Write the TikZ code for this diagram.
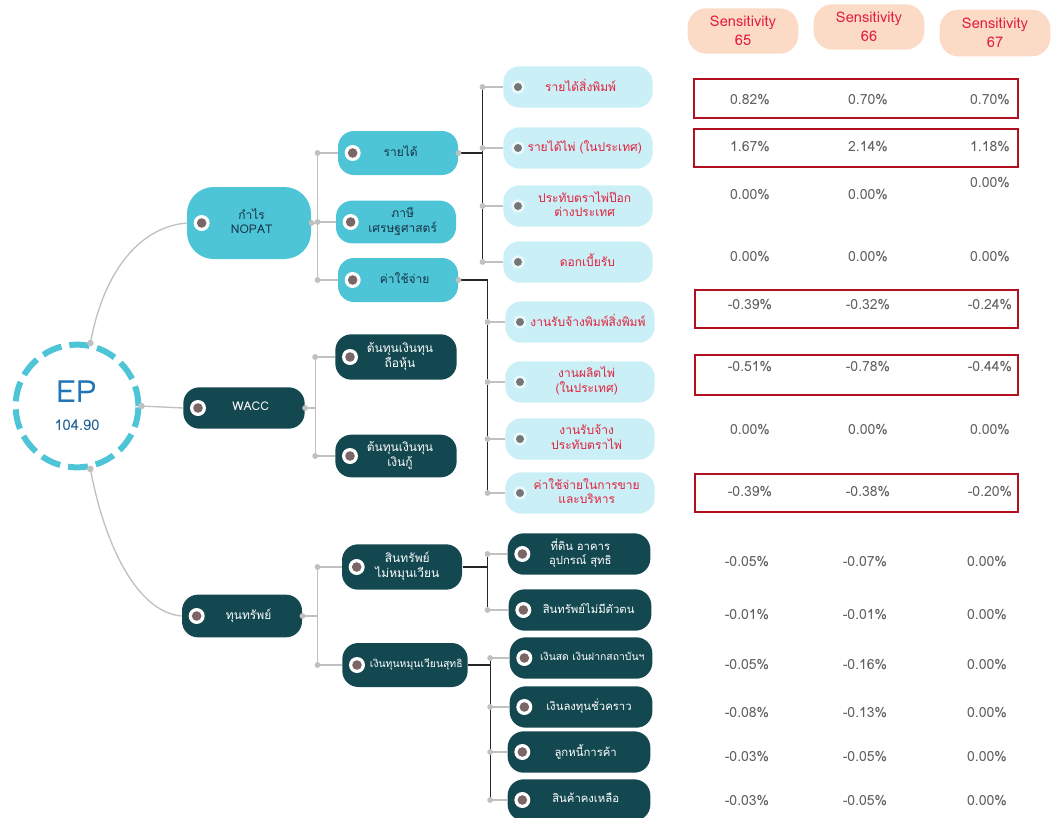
\documentclass[tikz,border=0pt]{standalone}
\usepackage{fontspec}
\setmainfont[Script=Thai]{Loma}

\definecolor{cyanmid}{RGB}{78,197,214}
\definecolor{cyanlight}{RGB}{202,239,246}
\definecolor{darkteal}{RGB}{19,72,80}
\definecolor{navytext}{RGB}{22,52,72}
\definecolor{redtext}{RGB}{226,32,58}
\definecolor{peach}{RGB}{251,219,198}
\definecolor{boxred}{RGB}{178,16,30}
\definecolor{valuegray}{RGB}{95,95,95}
\definecolor{linkgray}{RGB}{192,192,192}
\definecolor{dotbrown}{RGB}{122,102,102}
\definecolor{dotgray}{RGB}{118,118,118}
\definecolor{epblue}{RGB}{34,118,184}

% bullet drawn inside the boxes
\newcommand{\ringdot}{\fill[white] ([xshift=11pt]path picture bounding box.west) circle (6pt);
  \fill[dotbrown] ([xshift=11pt]path picture bounding box.west) circle (3.6pt);}
\newcommand{\paledot}{\fill[white!60!cyanlight] ([xshift=11pt]path picture bounding box.west) circle (5pt);
  \fill[dotgray] ([xshift=11pt]path picture bounding box.west) circle (3pt);}
% box text, pushed right of the bullet by half of the optional space
\newcommand{\tx}[2][10pt]{\hspace*{#1}\begin{tabular}{@{}c@{}}#2\end{tabular}}

\tikzset{every picture/.style={line width=0.75pt}}
\tikzset{
  softlink/.style={draw=linkgray, line width=1pt},
  hardlink/.style={draw=black!85, line width=1pt},
  junction/.style={fill=linkgray},
  box/.style={rounded corners=12pt, inner sep=1pt, font=\fontsize{9}{10.5}\selectfont},
  cyanbox/.style={box, fill=cyanmid, text=navytext, path picture={\ringdot}},
  darkbox/.style={box, fill=darkteal, text=white, path picture={\ringdot}},
  lightbox/.style={box, fill=cyanlight, text=redtext, minimum width=112pt, minimum height=31pt, path picture={\paledot}},
  leafbox/.style={darkbox, minimum width=107pt, minimum height=31pt, font=\fontsize{8.5}{10}\selectfont},
  headbox/.style={rounded corners=14pt, fill=peach, text=redtext, align=center, minimum width=83pt, minimum height=34pt, inner sep=1pt, font=\fontsize{11}{14.5}\selectfont},
  value/.style={text=valuegray, font=\fontsize{10.5}{12}\selectfont},
  hotbox/.style={draw=boxred, line width=2.2pt},
}

\begin{document}
\begin{tikzpicture}[x=0.75pt,y=0.75pt,yscale=-1,xscale=1]
	\useasboundingbox (0,0) rectangle (1051,818);

	%Shape: Circle [EP]
	\node[circle, draw=cyanmid, line width=4.5pt, dash pattern=on 15pt off 6pt, minimum size=92pt, align=center, inner sep=0pt] (ep) at (77,406) {{\fontsize{23}{25}\selectfont\color{epblue}EP}\\[9pt]{\fontsize{11}{13}\selectfont\color{epblue!80!black}104.90}};

	% first level
	\node[cyanbox, minimum width=93pt, minimum height=54pt, rounded corners=20pt] (nopat) at (249,223) {\tx[4pt]{กำไร\\NOPAT}};
	\node[darkbox, minimum width=91pt, minimum height=31pt] (wacc) at (244,408) {\tx{WACC}};
	\node[darkbox, minimum width=90pt, minimum height=32pt] (assets) at (242,616) {\tx{ทุนทรัพย์}};

	% second level
	\node[cyanbox, minimum width=90pt, minimum height=33pt] (rev) at (398,153) {\tx[4pt]{รายได้}};
	\node[cyanbox, minimum width=90pt, minimum height=32pt] (tax) at (396,222) {\tx{ภาษี\\เศรษฐศาสตร์}};
	\node[cyanbox, minimum width=90pt, minimum height=33pt] (cost) at (398,280) {\tx{ค่าใช้จ่าย}};
	\node[darkbox, minimum width=91pt, minimum height=34pt] (eqcost) at (396,357) {\tx[6pt]{ต้นทุนเงินทุน\\ถือหุ้น}};
	\node[darkbox, minimum width=91pt, minimum height=32pt] (debtcost) at (396,456) {\tx[6pt]{ต้นทุนเงินทุน\\เงินกู้}};
	\node[darkbox, minimum width=90pt, minimum height=34pt] (noncur) at (402,567) {\tx[8pt]{สินทรัพย์\\ไม่หมุนเวียน}};
	\node[darkbox, minimum width=94pt, minimum height=33pt, font=\fontsize{7.8}{9}\selectfont] (wc) at (405,665) {\tx[17pt]{เงินทุนหมุนเวียนสุทธิ}};

	% third level
	\node[lightbox] (rprint) at (578,87) {\tx[4pt]{รายได้สิ่งพิมพ์}};
	\node[lightbox] (rcard) at (578,148) {\tx{รายได้ไพ่ (ในประเทศ)}};
	\node[lightbox] (rstamp) at (578,206) {\tx{ประทับตราไพ่ป๊อก\\ต่างประเทศ}};
	\node[lightbox] (rint) at (578,262) {\tx[14pt]{ดอกเบี้ยรับ}};
	\node[lightbox] (jprint) at (580,322) {\tx[12pt]{งานรับจ้างพิมพ์สิ่งพิมพ์}};
	\node[lightbox] (jcard) at (580,382) {\tx{งานผลิตไพ่\\(ในประเทศ)}};
	\node[lightbox] (jstamp) at (580,439) {\tx{งานรับจ้าง\\ประทับตราไพ่}};
	\node[lightbox] (csell) at (580,493) {\tx{ค่าใช้จ่ายในการขาย\\และบริหาร}};
	\node[leafbox] (land) at (579,554) {\tx[2pt]{ที่ดิน อาคาร\\อุปกรณ์ สุทธิ}};
	\node[leafbox] (intang) at (580,610) {\tx[13pt]{สินทรัพย์ไม่มีตัวตน}};
	\node[leafbox, font=\fontsize{7.8}{9}\selectfont] (cash) at (581,658) {\tx[17pt]{เงินสด เงินฝากสถาบันฯ}};
	\node[leafbox] (tempinv) at (581,707) {\tx[12pt]{เงินลงทุนชั่วคราว}};
	\node[leafbox] (ar) at (579,752) {\tx{ลูกหนี้การค้า}};
	\node[leafbox] (inv) at (579,800) {\tx{สินค้าคงเหลือ}};

	%Straight Lines [EP to first level]
	\draw[softlink] (ep.78) .. controls +(14,-75) and +(-45,4) .. (nopat.west);
	\draw[softlink] (ep.east) -- (wacc.west);
	\draw[softlink] (ep.-78) .. controls +(14,75) and +(-45,-4) .. (assets.west);
	\fill[junction] (ep.78) circle (2.5pt);
	\fill[junction] (ep.east) circle (2.5pt);
	\fill[junction] (ep.-78) circle (2.5pt);

	%Straight Lines [first to second level]
	\draw[softlink] (nopat.east) -- ++(6,0) coordinate (b1) |- (rev.west);
	\draw[softlink] (b1) |- (tax.west);
	\draw[softlink] (b1) |- (cost.west);
	\draw[softlink] (wacc.east) -- ++(10,0) coordinate (b2) |- (eqcost.west);
	\draw[softlink] (b2) |- (debtcost.west);
	\draw[softlink] (assets.east) -- ++(15,0) coordinate (b3) |- (noncur.west);
	\draw[softlink] (b3) |- (wc.west);
	\fill[junction] (nopat.east) circle (2.2pt);
	\fill[junction] (wacc.east) circle (2.2pt);
	\fill[junction] (assets.east) circle (2.2pt);
	\fill[junction] (b1 |- rev.west) circle (2.2pt);
	\fill[junction] (b1 |- tax.west) circle (2.2pt);
	\fill[junction] (b1 |- cost.west) circle (2.2pt);
	\fill[junction] (b2 |- eqcost.west) circle (2.2pt);
	\fill[junction] (b2 |- debtcost.west) circle (2.2pt);
	\fill[junction] (b3 |- noncur.west) circle (2.2pt);
	\fill[junction] (b3 |- wc.west) circle (2.2pt);

	%Straight Lines [second to third level]
	\draw[hardlink] (rev.east) -- ++(24,0) coordinate (b4);
	\draw[hardlink] (b4 |- rprint.west) -- (b4 |- rint.west);
	\draw[softlink] (b4 |- rprint.west) -- (rprint.west);
	\draw[softlink] (b4 |- rcard.west) -- (rcard.west);
	\draw[softlink] (b4 |- rstamp.west) -- (rstamp.west);
	\draw[softlink] (b4 |- rint.west) -- (rint.west);
	\draw[hardlink] (cost.east) -- ++(29,0) coordinate (b5) -- (b5 |- csell.west);
	\draw[softlink] (b5 |- jprint.west) -- (jprint.west);
	\draw[softlink] (b5 |- jcard.west) -- (jcard.west);
	\draw[softlink] (b5 |- jstamp.west) -- (jstamp.west);
	\draw[softlink] (b5 |- csell.west) -- (csell.west);
	\draw[hardlink] (noncur.east) -- ++(25,0) coordinate (b6);
	\draw[hardlink] (b6 |- land.west) -- (b6 |- intang.west);
	\draw[softlink] (b6 |- land.west) -- (land.west);
	\draw[softlink] (b6 |- intang.west) -- (intang.west);
	\draw[hardlink] (wc.east) -- ++(22,0) coordinate (b7);
	\draw[hardlink] (b7 |- cash.west) -- (b7 |- inv.west);
	\draw[softlink] (b7 |- cash.west) -- (cash.west);
	\draw[softlink] (b7 |- tempinv.west) -- (tempinv.west);
	\draw[softlink] (b7 |- ar.west) -- (ar.west);
	\draw[softlink] (b7 |- inv.west) -- (inv.west);
	\fill[junction] (rev.east) circle (2.2pt);
	\fill[junction] (cost.east) circle (2.2pt);
	\fill[junction] (b4 |- rprint.west) circle (2.2pt);
	\fill[junction] (b4 |- rcard.west) circle (2.2pt);
	\fill[junction] (b4 |- rstamp.west) circle (2.2pt);
	\fill[junction] (b4 |- rint.west) circle (2.2pt);
	\fill[junction] (b5 |- jprint.west) circle (2.2pt);
	\fill[junction] (b5 |- jcard.west) circle (2.2pt);
	\fill[junction] (b5 |- jstamp.west) circle (2.2pt);
	\fill[junction] (b5 |- csell.west) circle (2.2pt);
	\fill[junction] (b6 |- land.west) circle (2.2pt);
	\fill[junction] (b6 |- intang.west) circle (2.2pt);
	\fill[junction] (b7 |- cash.west) circle (2.2pt);
	\fill[junction] (b7 |- tempinv.west) circle (2.2pt);
	\fill[junction] (b7 |- ar.west) circle (2.2pt);
	\fill[junction] (b7 |- inv.west) circle (2.2pt);

	% Header Nodes
	\node[headbox] (h65) at (743,31) {Sensitivity\\65};
	\node[headbox] (h66) at (869,27) {Sensitivity\\66};
	\node[headbox, minimum height=35pt] (h67) at (995,33) {Sensitivity\\67};

	%Shape: Rectangle [highlighted rows]
	\draw[hotbox] (694,79) rectangle (1018,118);
	\draw[hotbox] (694,129) rectangle (1018,167);
	\draw[hotbox] (695,290) rectangle (1018,328);
	\draw[hotbox] (695,355) rectangle (1018,395);
	\draw[hotbox] (695,474) rectangle (1018,512);

	% Text Node
	\node[value] (v1a) at (750,100) {0.82\%};   \node[value] (v1b) at (868,100) {0.70\%};   \node[value] (v1c) at (990,100) {0.70\%};
	\node[value] (v2a) at (750,147) {1.67\%};   \node[value] (v2b) at (868,147) {2.14\%};   \node[value] (v2c) at (990,147) {1.18\%};
	\node[value] (v3a) at (750,195) {0.00\%};   \node[value] (v3b) at (868,195) {0.00\%};   \node[value] (v3c) at (990,183) {0.00\%};
	\node[value] (v4a) at (750,257) {0.00\%};   \node[value] (v4b) at (868,257) {0.00\%};   \node[value] (v4c) at (990,257) {0.00\%};
	\node[value] (v5a) at (750,305) {-0.39\%};  \node[value] (v5b) at (868,305) {-0.32\%};  \node[value] (v5c) at (990,305) {-0.24\%};
	\node[value] (v6a) at (750,367) {-0.51\%};  \node[value] (v6b) at (868,367) {-0.78\%};  \node[value] (v6c) at (990,367) {-0.44\%};
	\node[value] (v7a) at (750,430) {0.00\%};   \node[value] (v7b) at (868,430) {0.00\%};   \node[value] (v7c) at (990,430) {0.00\%};
	\node[value] (v8a) at (750,492) {-0.39\%};  \node[value] (v8b) at (868,492) {-0.38\%};  \node[value] (v8c) at (990,492) {-0.20\%};
	\node[value] (v9a) at (747,562) {-0.05\%};  \node[value] (v9b) at (865,562) {-0.07\%};  \node[value] (v9c) at (987,562) {0.00\%};
	\node[value] (v10a) at (747,615) {-0.01\%}; \node[value] (v10b) at (865,615) {-0.01\%}; \node[value] (v10c) at (987,615) {0.00\%};
	\node[value] (v11a) at (747,665) {-0.05\%}; \node[value] (v11b) at (865,665) {-0.16\%}; \node[value] (v11c) at (987,665) {0.00\%};
	\node[value] (v12a) at (747,713) {-0.08\%}; \node[value] (v12b) at (865,713) {-0.13\%}; \node[value] (v12c) at (987,713) {0.00\%};
	\node[value] (v13a) at (747,757) {-0.03\%}; \node[value] (v13b) at (865,757) {-0.05\%}; \node[value] (v13c) at (987,757) {0.00\%};
	\node[value] (v14a) at (747,801) {-0.03\%}; \node[value] (v14b) at (865,801) {-0.05\%}; \node[value] (v14c) at (987,801) {0.00\%};

\end{tikzpicture}
\end{document}
